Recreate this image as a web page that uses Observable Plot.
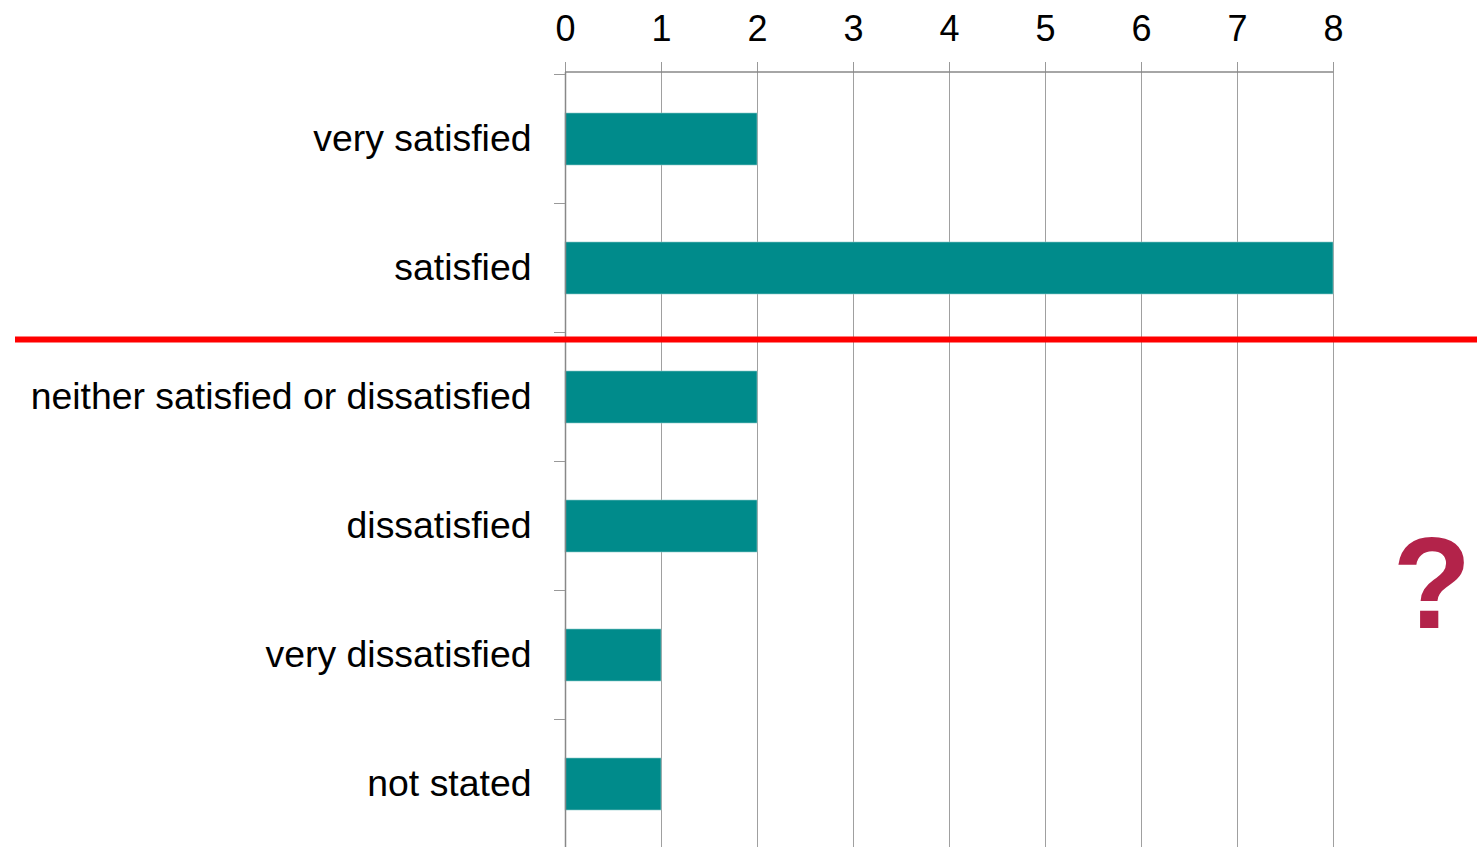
<!DOCTYPE html>
<html>
<head>
<meta charset="utf-8">
<script src="https://cdn.jsdelivr.net/npm/d3@7"></script>
<script src="https://cdn.jsdelivr.net/npm/@observablehq/plot@0.6"></script>
<style>
  html, body { margin: 0; padding: 0; background: #fff; overflow: hidden; }
  #chart svg { display: block; }
</style>
</head>
<body>
<div id="chart"></div>
<script>
const categories = [
  "very satisfied",
  "satisfied",
  "neither satisfied or dissatisfied",
  "dissatisfied",
  "very dissatisfied",
  "not stated"
];
const counts = [2, 8, 2, 2, 1, 1];
const xTicks = [0, 1, 2, 3, 4, 5, 6, 7, 8];
const dividerAfter = "satisfied";
const markerText = "?";

const data = categories.map((c, i) => ({category: c, count: counts[i]}));

function annotations(index, scales, values, dims) {
  const x = scales.x, y = scales.y;
  const step = y.step ? y.step() : (dims.height - dims.marginTop - dims.marginBottom) / categories.length;
  const g = d3.create("svg:g");
  const x0 = x(0);
  // band boundary ticks on the left axis
  const bounds = categories.map(c => y(c) - (step - y.bandwidth()) / 2);
  g.selectAll("line.bt").data(bounds).join("line")
    .attr("x1", x0 - 11).attr("x2", x0).attr("y1", d => d).attr("y2", d => d)
    .attr("stroke", "#999").attr("stroke-width", 1);
  // top axis line
  g.append("line")
    .attr("x1", x0).attr("x2", x(d3.max(xTicks)))
    .attr("y1", dims.marginTop).attr("y2", dims.marginTop)
    .attr("stroke", "#888").attr("stroke-width", 1.5);
  // red divider
  const iDiv = categories.indexOf(dividerAfter);
  const yDiv = bounds[iDiv + 1] + 7;
  g.append("line")
    .attr("x1", 15).attr("x2", dims.width)
    .attr("y1", yDiv).attr("y2", yDiv)
    .attr("stroke", "#ff0000").attr("stroke-width", 6);
  // question mark
  const yQ = bounds[categories.indexOf("very dissatisfied")] + 37;
  g.append("text")
    .attr("x", dims.width - 45).attr("y", yQ)
    .attr("text-anchor", "middle")
    .attr("font-size", 129).attr("font-weight", "bold")
    .attr("font-family", "Liberation Sans, Arial, sans-serif")
    .attr("fill", "#b3234a")
    .text(markerText);
  return g.node();
}

const chart = Plot.plot({
  width: 1477,
  height: 850,
  marginTop: 72,
  marginLeft: 565,
  marginRight: 0,
  marginBottom: 0,
  style: {fontFamily: "Liberation Sans, Arial, sans-serif", background: "white", color: "#000"},
  x: {domain: [0, 9.5], axis: null},
  y: {domain: categories, paddingInner: 0.6, paddingOuter: 0.3, axis: null},
  marks: [
    Plot.gridX(xTicks, {stroke: "#a0a0a0", strokeOpacity: 1}),
    Plot.barX(data, {x: "count", y: "category", fill: "#008b8b", stroke: "#8cc9c9", strokeWidth: 0.6}),
    Plot.axisX(xTicks, {anchor: "top", tickSize: 11, tickPadding: 21, fontSize: 36, stroke: "#999", label: null, tickFormat: d => String(d)}),
    Plot.ruleX([0], {stroke: "#888", strokeWidth: 1.5}),
    Plot.axisY({tickSize: 0, tickPadding: 34, fontSize: 37.4, label: null}),
    annotations
  ]
});
document.getElementById("chart").appendChild(chart);
</script>
</body>
</html>
